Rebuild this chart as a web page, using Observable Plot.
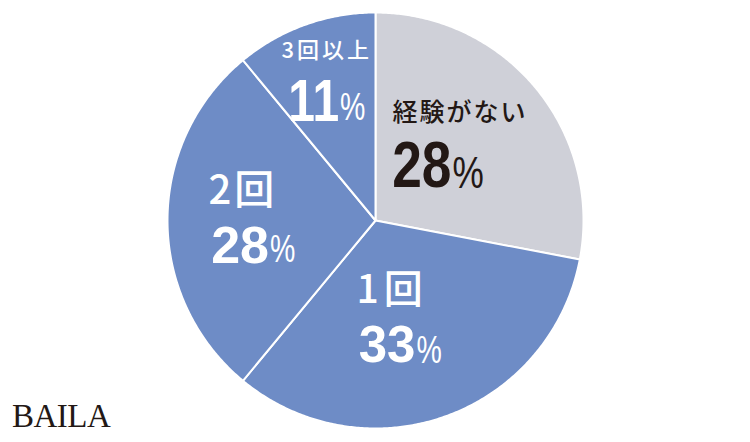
<!DOCTYPE html>
<html><head><meta charset="utf-8">
<script src="https://cdn.jsdelivr.net/npm/d3@7"></script>
<script src="https://cdn.jsdelivr.net/npm/@observablehq/plot@0.6"></script>
<style>
html,body{margin:0;padding:0;background:#fff;}
#wrap{position:relative;width:750px;height:442px;overflow:hidden;}
#logo{position:absolute;left:12px;top:400px;font-family:"Liberation Serif",serif;font-size:33px;line-height:1;color:#231815;letter-spacing:-0.5px;}
</style></head><body>
<div id="wrap"><div id="chart"></div><div id="logo">BAILA</div></div>
<script>
// data
const categories = ["経験がない", "1回", "2回", "3回以上"];
const percents = [28, 33, 28, 11];
const numberLabels = ["28", "33", "28", "11"];
const sliceColors = ["#cfd0d8", "#6e8cc6", "#6e8cc6", "#6e8cc6"];
const textColors = ["#231815", "#ffffff", "#ffffff", "#ffffff"];

// layout for labels (unit-circle coordinates of label anchors)
const nameAnchor = [[0.082, 0.517], [-0.091, -0.337], [-0.803, 0.142], [-0.452, 0.817]];
const nameSize = [25, 39, 40, 22];
const nameSpacing = [2, 5, 3, 3];
const numAnchor = [[0.365, 0.26], [0.192, -0.603], [-0.512, -0.123], [-0.175, 0.572]];
const pctOffsetV = [-0.034, -0.022, -0.019, -0.031];
const numSize = [65, 51, 52, 60];
const numSqueeze = [0.82, 1, 1, 0.8];
const pctSize = [44, 38, 38, 38];
const pctSqueeze = [0.8, 0.75, 0.75, 0.75];

const rows = categories.map((c, i) => ({cat: c, value: percents[i], color: sliceColors[i], i}));
const arcs = d3.pie().sort(null).value(d => d.value).startAngle(0).endAngle(2 * Math.PI)(rows);

const polys = [];
for (const a of arcs) {
  const n = Math.max(2, Math.ceil((a.endAngle - a.startAngle) / (Math.PI / 360)));
  polys.push({cat: a.data.cat, color: a.data.color, x: 0, y: 0});
  for (let k = 0; k <= n; k++) {
    const t = a.startAngle + (a.endAngle - a.startAngle) * k / n;
    polys.push({cat: a.data.cat, color: a.data.color, x: Math.sin(t), y: Math.cos(t)});
  }
}

const names = categories.map((c, i) => ({text: c, x: nameAnchor[i][0], y: nameAnchor[i][1], size: nameSize[i], color: textColors[i], i}));
const nums = numberLabels.map((t, i) => ({text: t, x: numAnchor[i][0], y: numAnchor[i][1], size: numSize[i], color: textColors[i], i}));
const pcts = numberLabels.map((t, i) => ({text: "%", x: numAnchor[i][0], y: numAnchor[i][1] + pctOffsetV[i], size: pctSize[i], color: textColors[i], i}));

const chart = Plot.plot({
  width: 750, height: 442,
  marginLeft: 167, marginRight: 167, marginTop: 12, marginBottom: 14,
  x: {domain: [-1, 1], axis: null},
  y: {domain: [-1, 1], axis: null},
  color: {type: "identity"},
  style: {background: "white"},
  marks: [
    Plot.line(polys, {x: "x", y: "y", z: "cat", fill: "color", stroke: "white", strokeWidth: 2, strokeLinejoin: "round", curve: "linear-closed"}),
    Plot.text(names, {x: "x", y: "y", text: "text", fill: "color", fontSize: "size", textAnchor: "start",
      fontFamily: "'Noto Sans CJK JP', sans-serif", fontWeight: 500}),
    Plot.text(nums, {x: "x", y: "y", text: "text", fill: "color", fontSize: "size", textAnchor: "end",
      fontFamily: "'Liberation Sans', Arial, sans-serif", fontWeight: "bold"}),
    Plot.text(pcts, {x: "x", y: "y", text: "text", fill: "color", fontSize: "size", textAnchor: "start", dx: 1,
      fontFamily: "'Liberation Sans', Arial, sans-serif", fontWeight: "normal"})
  ]
});

function squeeze(group, factors) {
  d3.select(group).selectAll("text").each(function(_, k) {
    const el = d3.select(this);
    const t = el.attr("transform") || "";
    el.attr("transform", `${t} scale(${factors[k]},1)`);
  });
}
const textGroups = d3.select(chart).selectAll('g[aria-label="text"]').nodes();
d3.select(textGroups[0]).selectAll("text").each(function(_, k) {
  d3.select(this).style("letter-spacing", nameSpacing[k] + "px");
});
squeeze(textGroups[1], numSqueeze);
squeeze(textGroups[2], pctSqueeze);
document.getElementById("chart").appendChild(chart);
</script>
</body></html>
